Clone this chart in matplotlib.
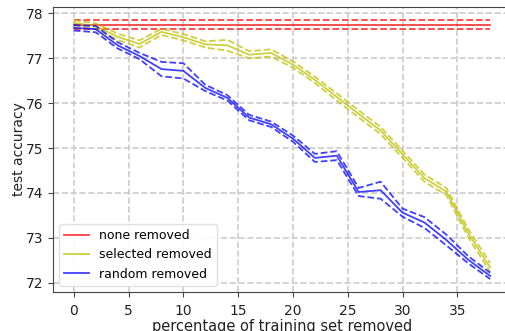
import matplotlib

matplotlib.use("Agg")
import matplotlib.pyplot as plt

# percentage of training set removed
pct = [0, 2, 4, 6, 8, 10, 12, 14, 16, 18, 20, 22, 24, 26, 28, 30, 32, 34, 36, 38]

none_mean = [77.75] * len(pct)
none_std = [0.105] * len(pct)

selected_mean = [77.79, 77.72, 77.48, 77.32, 77.59, 77.47, 77.31, 77.29, 77.08, 77.12,
                 76.86, 76.52, 76.14, 75.76, 75.39, 74.86, 74.33, 74.03, 73.10, 72.34]
selected_std = [0.06, 0.06, 0.07, 0.08, 0.07, 0.07, 0.07, 0.12, 0.08, 0.08,
                0.07, 0.07, 0.08, 0.08, 0.08, 0.08, 0.08, 0.08, 0.09, 0.10]

random_mean = [77.68, 77.65, 77.29, 77.05, 76.76, 76.72, 76.34, 76.12, 75.68, 75.53,
               75.21, 74.78, 74.83, 74.02, 74.06, 73.56, 73.34, 72.95, 72.51, 72.15]
random_std = [0.06, 0.07, 0.07, 0.07, 0.16, 0.17, 0.07, 0.06, 0.06, 0.06,
              0.07, 0.09, 0.10, 0.09, 0.19, 0.09, 0.12, 0.12, 0.08, 0.07]

series = [
    ("none removed", none_mean, none_std, "r"),
    ("selected removed", selected_mean, selected_std, "y"),
    ("random removed", random_mean, random_std, "b"),
]

fig = plt.figure(figsize=(5.06, 3.31), dpi=100)
ax = fig.add_axes([53 / 506, 1 - 292 / 331, (511 - 53) / 506, (292 - 7) / 331])

for label, mean, std, color in series:
    lo = [m - s for m, s in zip(mean, std)]
    hi = [m + s for m, s in zip(mean, std)]
    ax.plot(pct, mean, color=color, lw=1.3, alpha=0.75, label=label)
    ax.plot(pct, lo, color=color, lw=1.3, ls="--", alpha=0.75)
    ax.plot(pct, hi, color=color, lw=1.3, ls="--", alpha=0.75)

ax.set_xticks([0, 5, 10, 15, 20, 25, 30, 35])
ax.set_yticks([72, 73, 74, 75, 76, 77, 78])
ax.grid(True, ls="--", color="#cccccc", lw=1.2)
ax.set_axisbelow(True)
for sp in ax.spines.values():
    sp.set_color("#444444")
ax.tick_params(colors="#444444", labelsize=10, labelcolor="#222222")
ax.tick_params(axis="x", pad=5)

ax.set_xlabel("percentage of training set removed", fontsize=10.5, color="#222222")
ax.set_ylabel("test accuracy", fontsize=10, color="#222222")
ax.xaxis.set_label_coords(0.5, -0.093)
ax.yaxis.set_label_coords(-0.06, 0.5)
ax.legend(loc="lower left", fontsize=9, handlelength=2.0, framealpha=0.9, edgecolor="#dddddd")

fig.savefig("out.png", dpi=100)
